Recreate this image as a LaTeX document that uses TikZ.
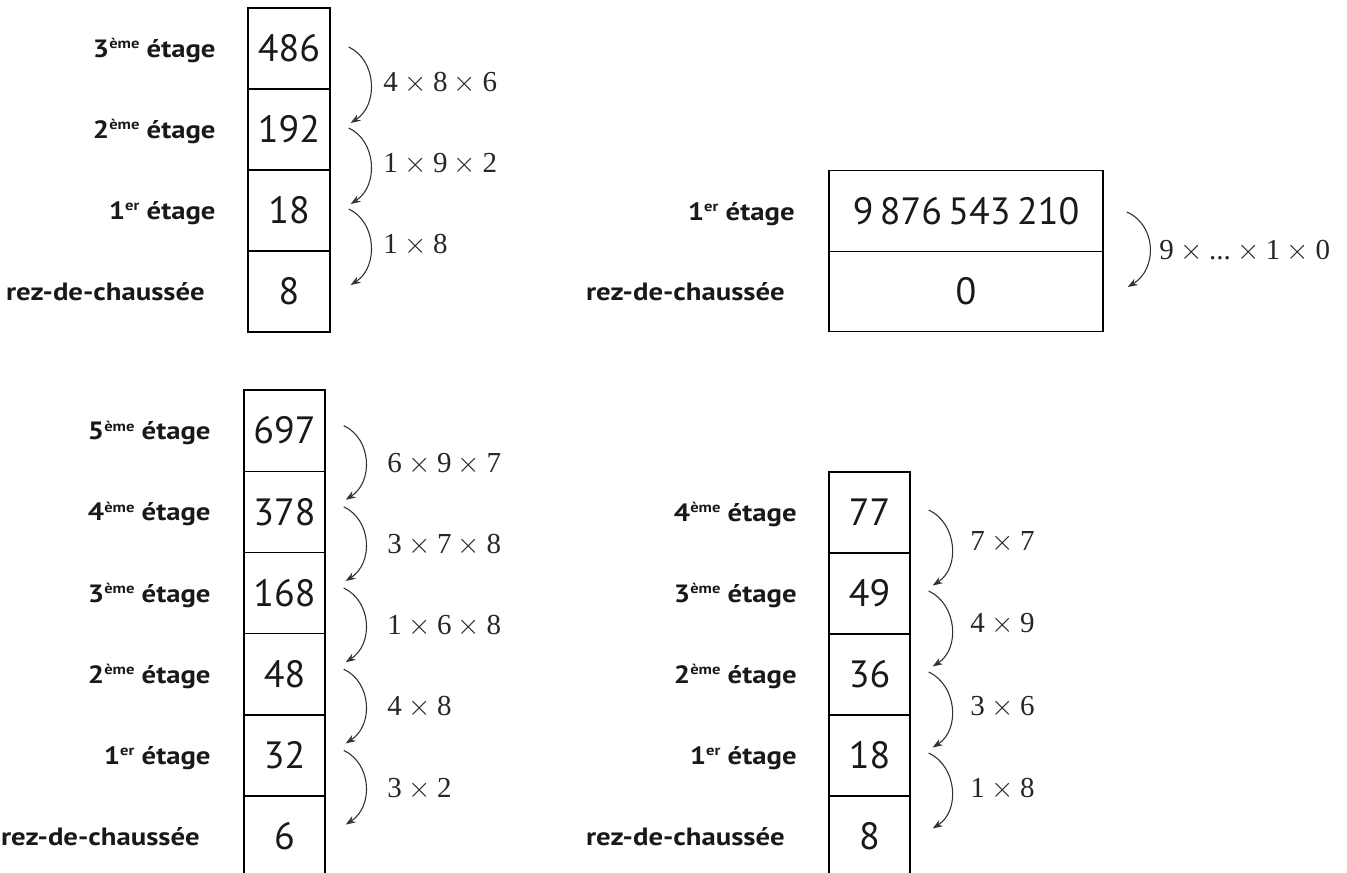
\documentclass[tikz,border=0pt]{standalone}
\usepackage{fontspec}
\setmainfont{Liberation Serif}
\newfontfamily\labfont{PT Sans}
\newfontfamily\labfontw{PT Sans}[FakeStretch=1.15]
\usetikzlibrary{arrows.meta}
\newcommand\supx[1]{\raisebox{4.3pt}{\fontsize{7.2}{8}\selectfont #1}}
\newcommand\tmx{\hspace{0.22em}$\times$\hspace{0.22em}}
\tikzset{
  cell/.style={draw=black, line width=0.7pt, inner sep=0pt, minimum height=40.5pt,
    font=\labfont\fontsize{19}{22}\selectfont, text=black!90},
  lab/.style={anchor=base east, inner sep=0pt, font=\labfontw\bfseries\fontsize{12.5}{14}\selectfont, text=black!90},
  mth/.style={anchor=base west, inner sep=0pt, font=\fontsize{14.5}{16}\selectfont, text=black!85},
  arr/.style={draw=black!80, line width=0.55pt, -{Stealth[length=5pt,width=3.6pt]}}
}
\begin{document}
\begin{tikzpicture}[x=0.5pt,y=-0.5pt]
\useasboundingbox (0,0) rectangle (1347,872);
\clip (0,0) rectangle (1347,872);
% ---------------- top-left
\node[cell, minimum width=41pt] (A3) at (289,48.5) {486};
\node[cell, minimum width=41pt] (A2) at (289,129.5) {192};
\node[cell, minimum width=41pt] (A1) at (289,210.5) {18};
\node[cell, minimum width=41pt] (A0) at (289,291.5) {8};
\node[lab] (LA3) at (216,57.5) {3\supx{ème} étage};
\node[lab] (LA2) at (216,138.5) {2\supx{ème} étage};
\node[lab] (LA1) at (216,219.5) {1\supx{er} étage};
\node[lab] (LA0) at (205,300.5) {rez-de-chaussée};
\node[mth] (MA3) at (383,91.5) {4\tmx 8\tmx 6};
\node[mth] (MA2) at (383,172.5) {1\tmx 9\tmx 2};
\node[mth] (MA1) at (383,253.5) {1\tmx 8};
\draw[arr] ([shift={(18,-1.5)}]A3.east) .. controls +(28,13) and +(28,-18) .. ([shift={(20,-6.5)}]A2.east);
\draw[arr] ([shift={(18,-1.5)}]A2.east) .. controls +(28,13) and +(28,-18) .. ([shift={(20,-6.5)}]A1.east);
\draw[arr] ([shift={(18,-1.5)}]A1.east) .. controls +(28,13) and +(28,-18) .. ([shift={(20,-6.5)}]A0.east);
% ---------------- top-right
\node[cell, minimum width=137pt, minimum height=40.25pt] (D1) at (966,211) {9\hspace{0.17em}876\hspace{0.17em}543\hspace{0.17em}210};
\node[cell, minimum width=137pt, minimum height=40.25pt] (D0) at (966,291.5) {0};
\node[lab] (LD1) at (795,220) {1\supx{er} étage};
\node[lab] (LD0) at (785,300.5) {rez-de-chaussée};
\node[mth] (MD1) at (1159,259) {9\tmx ...\tmx 1\tmx 0};
\draw[arr] ([shift={(23,1)}]D1.east) .. controls +(30,13) and +(30,-18) .. ([shift={(24,-4.5)}]D0.east);
% ---------------- bottom-left
\node[cell, minimum width=40.5pt, minimum height=40.6pt] (B5) at (284.5,430.6) {697};
\node[cell, minimum width=40.5pt, minimum height=40.6pt] (B4) at (284.5,511.8) {378};
\node[cell, minimum width=40.5pt, minimum height=40.6pt] (B3) at (284.5,593) {168};
\node[cell, minimum width=40.5pt, minimum height=40.6pt] (B2) at (284.5,674.2) {48};
\node[cell, minimum width=40.5pt, minimum height=40.6pt] (B1) at (284.5,755.4) {32};
\node[cell, minimum width=40.5pt, minimum height=40.6pt] (B0) at (284.5,836.6) {6};
\node[lab] (LB5) at (211,439.6) {5\supx{ème} étage};
\node[lab] (LB4) at (211,520.8) {4\supx{ème} étage};
\node[lab] (LB3) at (211,602) {3\supx{ème} étage};
\node[lab] (LB2) at (211,683.2) {2\supx{ème} étage};
\node[lab] (LB1) at (211,764.4) {1\supx{er} étage};
\node[lab] (LB0) at (200,845.6) {rez-de-chaussée};
\node[mth] (MB5) at (387,472) {6\tmx 9\tmx 7};
\node[mth] (MB4) at (387,553) {3\tmx 7\tmx 8};
\node[mth] (MB3) at (387,634) {1\tmx 6\tmx 8};
\node[mth] (MB2) at (387,715) {4\tmx 8};
\node[mth] (MB1) at (387,797) {3\tmx 2};
\foreach \a/\b in {B5/B4,B4/B3,B3/B2,B2/B1,B1/B0}
  \draw[arr] ([shift={(18,-5)}]\a.east) .. controls +(28,13) and +(28,-18) .. ([shift={(20,-12)}]\b.east);
% ---------------- bottom-right
\node[cell, minimum width=40.5pt, minimum height=40.5pt] (C4) at (869.5,512.5) {77};
\node[cell, minimum width=40.5pt, minimum height=40.5pt] (C3) at (869.5,593.5) {49};
\node[cell, minimum width=40.5pt, minimum height=40.5pt] (C2) at (869.5,674.5) {36};
\node[cell, minimum width=40.5pt, minimum height=40.5pt] (C1) at (869.5,755.5) {18};
\node[cell, minimum width=40.5pt, minimum height=40.5pt] (C0) at (869.5,836.5) {8};
\node[lab] (LC4) at (797,521.5) {4\supx{ème} étage};
\node[lab] (LC3) at (797,602.5) {3\supx{ème} étage};
\node[lab] (LC2) at (797,683.5) {2\supx{ème} étage};
\node[lab] (LC1) at (797,764.5) {1\supx{er} étage};
\node[lab] (LC0) at (785,845.5) {rez-de-chaussée};
\node[mth] (MC4) at (970,550) {7\tmx 7};
\node[mth] (MC3) at (970,632) {4\tmx 9};
\node[mth] (MC2) at (970,715) {3\tmx 6};
\node[mth] (MC1) at (970,797) {1\tmx 8};
\foreach \a/\b in {C4/C3,C3/C2,C2/C1,C1/C0}
  \draw[arr] ([shift={(18,-2.5)}]\a.east) .. controls +(28,13) and +(28,-18) .. ([shift={(22,-8)}]\b.east);
\end{tikzpicture}
\end{document}
